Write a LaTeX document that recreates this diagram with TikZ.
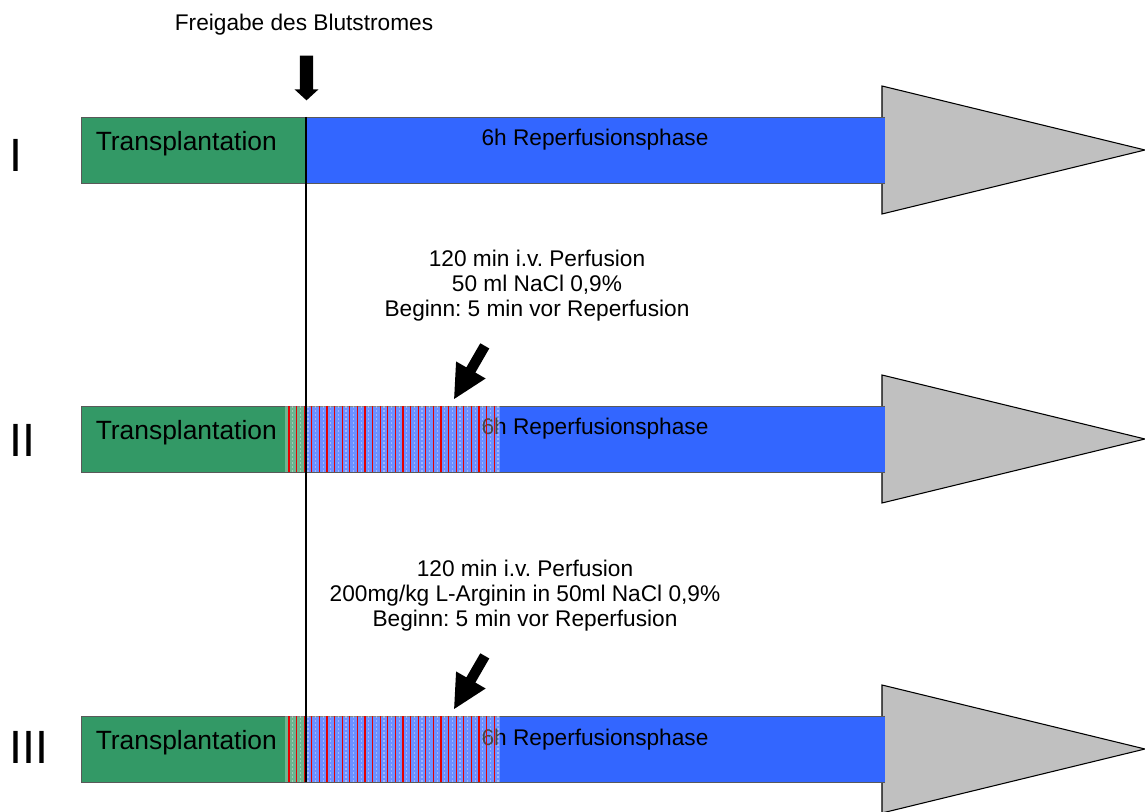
\documentclass[tikz,border=0pt]{standalone}
\usepackage{fontspec}
\setmainfont{Liberation Sans}
\frenchspacing
\usetikzlibrary{shapes.arrows}
\definecolor{txgreen}{RGB}{51,153,102}
\definecolor{repblue}{RGB}{51,102,255}
\definecolor{tipgray}{RGB}{192,192,192}
\tikzstyle{phase} = [draw=black!65, line width=0.5pt]
\tikzstyle{tipbox} = [fill=tipgray, draw=black, line width=0.8pt]
\tikzstyle{drip} = [red!90!black, line width=0.8pt]
\tikzstyle{bigarrow} = [single arrow, fill=black, inner xsep=0pt]
\tikzstyle{infotext} = [font=\fontsize{17}{18.75}\selectfont, inner sep=0pt]
\tikzstyle{bartext} = [font=\fontsize{19.8}{22}\selectfont, inner sep=0pt]
\tikzstyle{rownum} = [font=\fontsize{35}{40}\selectfont, inner sep=0pt]
\begin{document}
\begin{tikzpicture}[x=0.75pt, y=-0.75pt]
\useasboundingbox (0,0) rectangle (1145,812);

% the three timelines
\foreach \y/\row in {0/I, 289/II, 599/III}{
	\filldraw[tipbox] (882,86+\y) -- (1145,150+\y) -- (882,214+\y) -- cycle;
	\fill[txgreen] (81,117+\y) rectangle (306,183+\y);
	\fill[repblue] (306,117+\y) rectangle (885,183+\y);
	\draw[phase] (885,117+\y) -- (81,117+\y) -- (81,183+\y) -- (885,183+\y);
	\node[bartext, anchor=base west] (tx\row) at (95.5,150.5+\y) {Transplantation};
	\node[infotext, anchor=base] (rep\row) at (595,146+\y) {6h Reperfusionsphase};
}

	%infusion
\foreach \y in {289,599}{
	\fill[white, opacity=0.28] (285,117+\y) rectangle (500,183+\y);
	\foreach \i in {0,...,27}{
		\draw[white, opacity=0.35, line width=0.8pt, dash pattern=on 1.5pt off 1.5pt]
			({292.8+7.6*\i},117+\y) -- ++(0,66);
		\draw[drip] ({289+7.6*\i},117+\y) -- ++(0,66);
	}
}

\foreach \yb/\row in {172/I, 456/II, 763/III}
	\node[rownum, anchor=base west] (num\row) at (9,\yb) {\row};

\coordinate (rel) at (306,117);
\coordinate (relend) at (306,782);
\draw[line width=1.1pt] (rel) -- (relend);

\node[infotext, anchor=base] (release) at (304,31) {Freigabe des Blutstromes};
\node[bigarrow, rotate=-90, minimum height=33.5pt, inner ysep=4.75pt,
	single arrow head extend=4pt, single arrow tip angle=95] (relarrow) at (306.5,75) {};

\node[infotext, align=center] (dose2) at (537,285.5)
	{120 min i.v. Perfusion\\50 ml NaCl 0,9\%\\Beginn: 5 min vor Reperfusion};
\node[infotext, align=center] (dose3) at (525,595.5)
	{120 min i.v. Perfusion\\200mg/kg L-Arginin in 50ml NaCl 0,9\%\\Beginn: 5 min vor Reperfusion};

\foreach \y/\row in {368/2, 678/3}
	\node[bigarrow, rotate=240, minimum height=46pt, inner ysep=3.7pt,
		single arrow head extend=8.9pt, single arrow tip angle=54] (dosearrow\row) at (472,\y) {};

\end{tikzpicture}
\end{document}
